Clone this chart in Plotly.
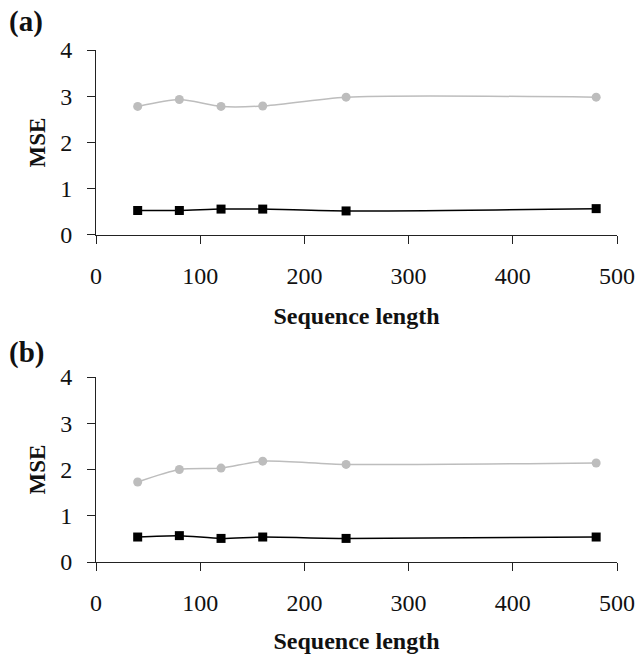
import plotly.graph_objects as go

# Sequence lengths tested and MSE obtained for each, two experiments (a) and (b)
seq_len = [40, 80, 120, 160, 240, 480]
a_upper = [2.78, 2.93, 2.78, 2.79, 2.98, 2.98]
a_lower = [0.53, 0.53, 0.56, 0.56, 0.52, 0.57]
b_upper = [1.73, 2.00, 2.03, 2.18, 2.11, 2.14]
b_lower = [0.54, 0.57, 0.51, 0.54, 0.51, 0.54]

x_ticks = [0, 100, 200, 300, 400, 500]
y_ticks = [0, 1, 2, 3, 4]

FONT = "Liberation Serif"
GRAY = "#bdbdbd"
BLACK = "#000000"

fig = go.Figure()

panels = [("x", "y", a_upper, a_lower), ("x2", "y2", b_upper, b_lower)]
for xa, ya, upper, lower in panels:
    fig.add_trace(go.Scatter(
        x=seq_len, y=upper, xaxis=xa, yaxis=ya, mode="lines+markers",
        line=dict(color=GRAY, width=1.5, shape="spline", smoothing=0.7),
        marker=dict(symbol="circle", size=9, color=GRAY),
        showlegend=False, hoverinfo="skip", cliponaxis=False))
    fig.add_trace(go.Scatter(
        x=seq_len, y=lower, xaxis=xa, yaxis=ya, mode="lines+markers",
        line=dict(color=BLACK, width=1.5, shape="spline", smoothing=0.7),
        marker=dict(symbol="square", size=9, color=BLACK),
        showlegend=False, hoverinfo="skip", cliponaxis=False))

xaxis_style = dict(
    range=[0, 500], tickvals=x_ticks, ticktext=[str(v) for v in x_ticks],
    showgrid=False, zeroline=False, showline=True, linecolor="#222", linewidth=1,
    ticks="outside", ticklen=8, tickwidth=1, tickcolor="#222",
    ticklabelstandoff=11, automargin=False,
    tickfont=dict(family=FONT, size=24, color="#111"),
    title=dict(text="<b>Sequence length</b>", font=dict(family=FONT, size=24, color="#111"),
               standoff=19),
)
yaxis_style = dict(
    range=[0, 4], tickvals=y_ticks, ticktext=[str(v) for v in y_ticks],
    showgrid=False, zeroline=False, showline=True, linecolor="#222", linewidth=1,
    ticks="outside", ticklen=8, tickwidth=1, tickcolor="#222",
    ticklabelstandoff=10, automargin=False,
    tickfont=dict(family=FONT, size=24, color="#111"),
    title=dict(text="<b>MSE</b>", font=dict(family=FONT, size=23, color="#111"),
               standoff=8),
)

fig.update_layout(
    width=639, height=654,
    margin=dict(l=96, r=22, t=50, b=92),
    paper_bgcolor="white", plot_bgcolor="white",
    xaxis=dict(domain=[0, 1], anchor="y", **xaxis_style),
    yaxis=dict(domain=[0.6387, 1.0], anchor="x", **yaxis_style),
    xaxis2=dict(domain=[0, 1], anchor="y2", **xaxis_style),
    yaxis2=dict(domain=[0.0, 0.3613], anchor="x2", **yaxis_style),
)

for label, ypos in [("(a)", 1.055), ("(b)", 0.41)]:
    fig.add_annotation(
        text=f"<b>{label}</b>", xref="paper", yref="paper",
        x=-0.17, y=ypos, xanchor="left", yanchor="middle", showarrow=False,
        font=dict(family=FONT, size=29, color="#111"))

fig.write_html("out.html")
